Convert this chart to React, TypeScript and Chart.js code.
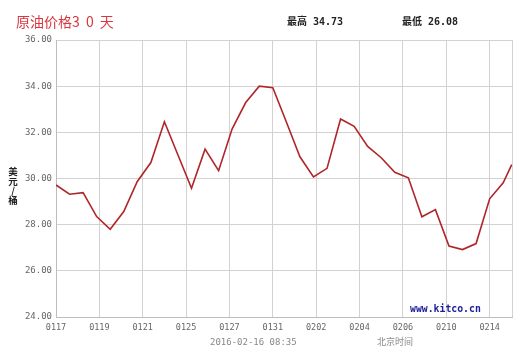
import React, { useEffect, useRef } from "react";
import { Chart, registerables } from "chart.js";

Chart.register(...registerables);

const tickLabels = ["0117", "0119", "0121", "0125", "0127", "0131", "0202", "0204", "0206", "0210", "0214"];
const prices = [
  29.72, 29.32, 29.39, 28.35, 27.8, 28.57, 29.87, 30.69, 32.46, 31.02, 29.58, 31.27, 30.34, 32.15, 33.29, 34.0,
  33.93, 32.45, 30.94, 30.07, 30.44, 32.58, 32.26, 31.39, 30.9, 30.27, 30.03, 28.34, 28.65, 27.07, 26.92, 27.18,
  29.12, 29.81, 30.6,
];
const pointIndex = [
  0, 1, 2, 3, 4, 5, 6, 7, 8, 9, 10, 11, 12, 13, 14, 15, 16, 17, 18, 19, 20, 21, 22, 23, 24, 25, 26, 27, 28, 29, 30,
  31, 32, 33, 33.63,
];
const tickStep = 3.2;
const xMax = 33.65;
const highText = "最高 34.73";
const lowText = "最低 26.08";
const titleText = "原油价格3 0 天";
const yTitle = ["美", "元", "/", "桶"];
const dateText = "2016-02-16 08:35";
const tzText = "北京时间";
const siteText = "www.kitco.cn";

export default function App() {
  const ref = useRef<HTMLCanvasElement | null>(null);

  useEffect(() => {
    if (!ref.current) return;
    const chart = new Chart(ref.current, {
      type: "line",
      data: {
        datasets: [
          {
            data: prices.map((v, i) => ({ x: pointIndex[i], y: v })),
            borderColor: "#b02529",
            borderWidth: 1.6,
            pointRadius: 0,
            tension: 0,
            fill: false,
          },
        ],
      },
      options: {
        animation: false,
        responsive: true,
        maintainAspectRatio: false,
        layout: { padding: { top: 40, right: 18, left: 0, bottom: 0 } },
        plugins: { legend: { display: false }, tooltip: { enabled: false }, title: { display: false } },
        scales: {
          x: {
            type: "linear",
            min: 0,
            max: xMax,
            afterBuildTicks: (scale: any) => {
              const t = tickLabels.map((_, i) => ({ value: i * tickStep }));
              t.push({ value: xMax });
              scale.ticks = t;
            },
            afterFit: (scale: any) => {
              scale.height = 40;
            },
            grid: { color: "#d2d2d2", drawTicks: false, lineWidth: 1 },
            border: { color: "#bdbdbd" },
            ticks: {
              padding: 6,
              autoSkip: false,
              maxRotation: 0,
              color: "#666",
              font: { family: "DejaVu Sans Mono", size: 8.5 },
              callback: (_v: any, i: number) => tickLabels[i] ?? "",
            },
          },
          y: {
            min: 24,
            max: 36,
            afterFit: (scale: any) => {
              scale.width = 56;
            },
            grid: { color: "#d2d2d2", drawTicks: false, lineWidth: 1 },
            border: { color: "#bdbdbd" },
            ticks: {
              stepSize: 2,
              padding: 4,
              color: "#666",
              font: { family: "DejaVu Sans Mono", size: 9 },
              callback: (v: any) => Number(v).toFixed(2),
            },
          },
        },
      },
    });
    return () => chart.destroy();
  }, []);

  const abs = (s: React.CSSProperties): React.CSSProperties => ({ position: "absolute", whiteSpace: "nowrap", ...s });

  return (
    <div style={{ position: "absolute", left: 0, top: 0, width: 530, height: 357, background: "#fff", overflow: "hidden" }}>
      <canvas ref={ref} />
      <div
        style={abs({
          left: 16,
          top: 12,
          fontFamily: "'Noto Sans CJK SC', sans-serif",
          fontSize: 14,
          lineHeight: "18px",
          color: "#d9363e",
          wordSpacing: 3,
        })}
      >
        {titleText}
      </div>
      <div
        style={abs({
          left: 287,
          top: 15,
          fontFamily: "'DejaVu Sans Mono', 'Noto Sans CJK SC', monospace",
          fontSize: 10,
          fontWeight: 700,
          lineHeight: "14px",
          color: "#222",
        })}
      >
        {highText}
      </div>
      <div
        style={abs({
          left: 402,
          top: 15,
          fontFamily: "'DejaVu Sans Mono', 'Noto Sans CJK SC', monospace",
          fontSize: 10,
          fontWeight: 700,
          lineHeight: "14px",
          color: "#222",
        })}
      >
        {lowText}
      </div>
      <div
        style={abs({
          left: 7,
          top: 167,
          width: 12,
          textAlign: "center",
          fontFamily: "'Noto Sans CJK SC', sans-serif",
          fontSize: 9.5,
          fontWeight: 700,
          lineHeight: "9.5px",
          color: "#222",
          whiteSpace: "normal",
        })}
      >
        {yTitle.map((c, i) => (
          <div key={i}>{c}</div>
        ))}
      </div>
      <div
        style={abs({
          left: 410,
          top: 302,
          fontFamily: "'DejaVu Sans Mono', monospace",
          fontSize: 9.8,
          fontWeight: 700,
          lineHeight: "14px",
          color: "#1c1c9c",
        })}
      >
        {siteText}
      </div>
      <div
        style={abs({
          left: 210,
          top: 336,
          fontFamily: "'DejaVu Sans Mono', monospace",
          fontSize: 9,
          lineHeight: "12px",
          color: "#888",
        })}
      >
        {dateText}
      </div>
      <div
        style={abs({
          left: 377,
          top: 336,
          fontFamily: "'Noto Sans CJK SC', sans-serif",
          fontSize: 9,
          lineHeight: "12px",
          color: "#888",
        })}
      >
        {tzText}
      </div>
    </div>
  );
}
